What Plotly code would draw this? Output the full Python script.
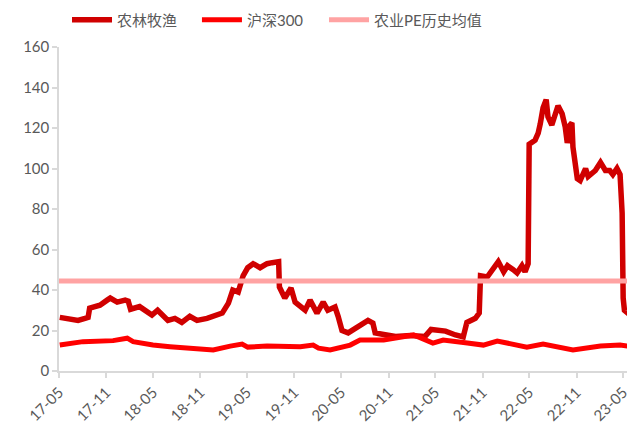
import plotly.graph_objects as go

# 农林牧渔 PE (TTM)
agri_dates = [
    "2017-05-04", "2017-06-13", "2017-07-14", "2017-08-10", "2017-08-22", "2017-08-28",
    "2017-09-18", "2017-10-07", "2017-11-04", "2017-11-16", "2017-12-13", "2018-01-13",
    "2018-01-25", "2018-02-03", "2018-03-10", "2018-04-06", "2018-04-27", "2018-05-19",
    "2018-06-09", "2018-06-28", "2018-07-25", "2018-08-21", "2018-09-21", "2018-10-19",
    "2018-11-27", "2018-12-21", "2019-01-25", "2019-02-18", "2019-03-07", "2019-03-28",
    "2019-04-16", "2019-05-04", "2019-05-25", "2019-06-21", "2019-07-18", "2019-08-07",
    "2019-09-01", "2019-09-04", "2019-09-25", "2019-10-19", "2019-11-04", "2019-12-13",
    "2020-01-01", "2020-01-28", "2020-02-21", "2020-03-10", "2020-04-07", "2020-04-19",
    "2020-05-04", "2020-05-28", "2020-07-06", "2020-08-13", "2020-09-01", "2020-09-10",
    "2020-10-13", "2020-11-28", "2021-01-25", "2021-03-22", "2021-04-15", "2021-06-10",
    "2021-07-19", "2021-08-18", "2021-09-01", "2021-10-04", "2021-10-19", "2021-10-24",
    "2021-11-19", "2021-12-09", "2022-01-01", "2022-01-22", "2022-02-06", "2022-02-28",
    "2022-03-15", "2022-04-03", "2022-04-15", "2022-04-27", "2022-05-01", "2022-05-24",
    "2022-06-05", "2022-06-13", "2022-06-24", "2022-07-06", "2022-07-13", "2022-07-28",
    "2022-08-09", "2022-08-21", "2022-09-06", "2022-09-18", "2022-09-26", "2022-10-07",
    "2022-10-14", "2022-10-18", "2022-11-04", "2022-11-15", "2022-12-06", "2022-12-16",
    "2023-01-13", "2023-02-02", "2023-02-21", "2023-03-10", "2023-03-22", "2023-04-07",
    "2023-04-19", "2023-04-27", "2023-05-01", "2023-05-06", "2023-05-28", "2023-06-13",
]
agri_pe = [
    26.5, 25.5, 25.0, 26.0, 26.5, 31.0,
    32.0, 32.5, 35.0, 36.0, 34.0, 35.0,
    34.5, 30.5, 31.8, 29.5, 27.6, 30.0,
    27.6, 25.0, 26.0, 24.0, 27.0, 25.0,
    26.0, 27.0, 28.6, 33.5, 40.0, 39.0,
    47.0, 51.0, 53.0, 51.0, 53.0, 53.5,
    54.0, 41.5, 36.0, 41.0, 34.0, 30.0,
    35.0, 28.6, 34.0, 30.0, 31.6, 27.0,
    20.0, 18.8, 21.7, 25.0, 23.7, 18.8,
    18.0, 17.0, 17.5, 17.0, 20.5, 19.7,
    17.8, 16.8, 24.0, 26.0, 28.6, 47.0,
    46.4, 50.0, 54.0, 49.0, 52.0, 50.0,
    48.4, 52.0, 49.0, 53.0, 112.0, 114.0,
    117.5, 122.0, 130.0, 134.0, 125.5, 121.5,
    127.0, 131.0, 127.0, 120.5, 112.6, 121.5,
    122.5, 110.6, 95.0, 94.0, 100.0, 96.0,
    99.0, 103.0, 99.0, 99.0, 97.0, 100.0,
    97.0, 78.0, 36.0, 30.0, 27.6, 28.6,
]

# 沪深300 PE (TTM)
hs300_dates = [
    "2017-05-04", "2017-08-02", "2017-11-27", "2018-01-21", "2018-02-13", "2018-05-01",
    "2018-07-06", "2018-09-10", "2018-12-21", "2019-02-25", "2019-04-12", "2019-05-04",
    "2019-07-18", "2019-11-24", "2020-01-13", "2020-02-03", "2020-03-19", "2020-06-05",
    "2020-07-13", "2020-10-13", "2021-02-06", "2021-04-22", "2021-06-01", "2021-09-03",
    "2021-11-04", "2021-12-28", "2022-04-22", "2022-06-24", "2022-10-18", "2023-02-02",
    "2023-04-19", "2023-06-13",
]
hs300_pe = [
    12.8, 14.5, 15.0, 16.2, 14.5, 12.8,
    12.0, 11.3, 10.4, 12.3, 13.3, 11.8,
    12.3, 12.0, 12.8, 11.3, 10.4, 12.8,
    15.3, 15.3, 17.8, 13.8, 15.3, 13.8,
    12.8, 14.8, 11.8, 13.3, 10.4, 12.3,
    12.8, 11.8,
]

# 农业PE历史均值
avg_dates = ["2017-05-01", "2023-06-16"]
avg_pe = [44.5, 44.5]

series_names = ["农林牧渔", "沪深300", "农业PE历史均值"]

fig = go.Figure()
fig.add_trace(go.Scatter(x=agri_dates, y=agri_pe, mode="lines", name=series_names[0],
                         line=dict(color="#D00000", width=5.5), legend="legend"))
fig.add_trace(go.Scatter(x=hs300_dates, y=hs300_pe, mode="lines", name=series_names[1],
                         line=dict(color="#FF0000", width=5), legend="legend2"))
fig.add_trace(go.Scatter(x=avg_dates, y=avg_pe, mode="lines", name=series_names[2],
                         line=dict(color="#FFA3A3", width=5), legend="legend3"))

font_family = "Lato, 'Noto Sans CJK SC', sans-serif"
leg_common = dict(orientation="h", xanchor="left", y=1.083, yanchor="middle",
                  font=dict(size=15, color="#595959"), itemwidth=40,
                  bgcolor="rgba(0,0,0,0)")
fig.update_layout(
    width=627, height=431,
    margin=dict(l=51, r=0, t=39, b=68, autoexpand=False),
    paper_bgcolor="white", plot_bgcolor="white",
    font=dict(family=font_family, size=15, color="#595959"),
    showlegend=True,
    legend=dict(x=0.0139, **leg_common),
    legend2=dict(x=0.2395, **leg_common),
    legend3=dict(x=0.4601, **leg_common),
    xaxis=dict(
        type="date", range=["2017-05-01", "2023-06-16"],
        tick0="2017-05-01", dtick="M6", tickformat="%y-%m", tickangle=-45,
        showgrid=False, showline=True, linecolor="#D9D9D9", linewidth=1.5,
        ticks="outside", ticklen=5, tickcolor="#D9D9D9", tickwidth=1.5,
        tickfont=dict(size=15, color="#595959"), zeroline=False,
    ),
    yaxis=dict(
        range=[0, 160], dtick=20, showgrid=False, showline=True,
        linecolor="#D9D9D9", linewidth=1.5, ticks="outside", ticklen=5,
        tickcolor="#D9D9D9", tickwidth=1.5, zeroline=False,
        tickfont=dict(size=15, color="#595959"),
    ),
)

fig.write_html("out.html")
